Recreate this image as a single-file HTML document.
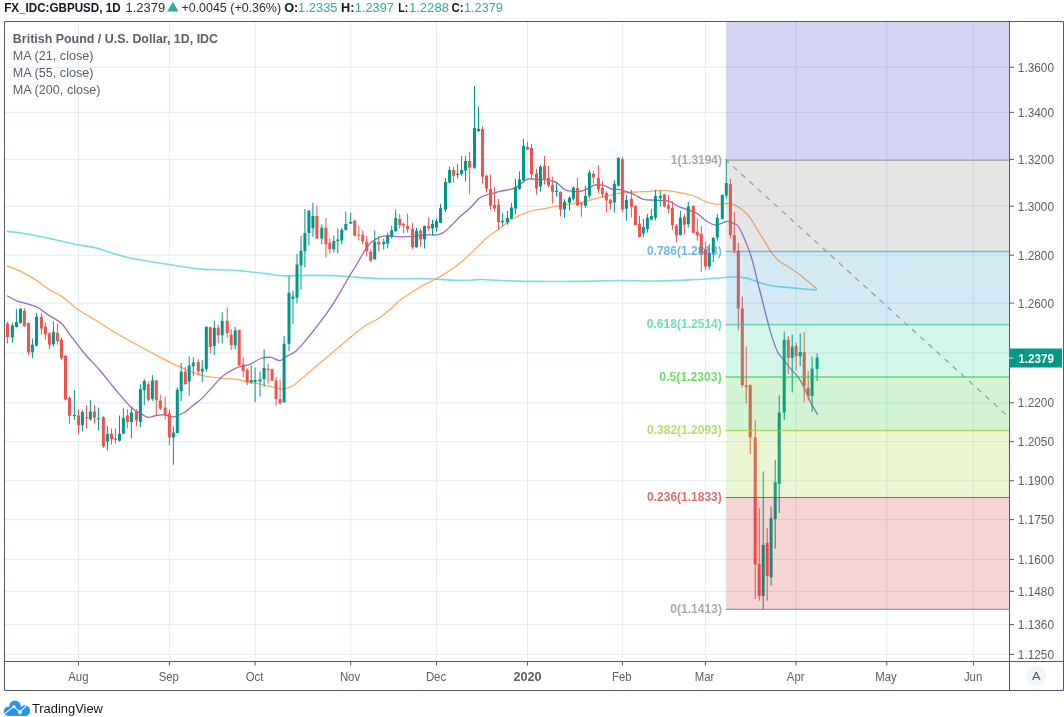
<!DOCTYPE html>
<html lang="en"><head><meta charset="utf-8"><title>GBPUSD chart</title>
<style>
html,body{margin:0;padding:0;background:#fff;}
body{width:1064px;height:717px;overflow:hidden;}
svg{display:block;}
text{font-family:"Liberation Sans", sans-serif;font-size:12px;fill:#5a5e6a;}
.g{stroke:#e1ecf2;stroke-width:1;fill:none;}
.fr{stroke:#555966;stroke-width:1;fill:none;}
.u{fill:#009688;}
.d{fill:#ef5350;}
</style></head><body>
<svg width="1064" height="717" viewBox="0 0 1064 717">
<rect width="1064" height="717" fill="#fff"/>
<g class="g">
<line x1="5" x2="1009.5" y1="67.2" y2="67.2"/>
<line x1="5" x2="1009.5" y1="112.4" y2="112.4"/>
<line x1="5" x2="1009.5" y1="159.4" y2="159.4"/>
<line x1="5" x2="1009.5" y1="206.2" y2="206.2"/>
<line x1="5" x2="1009.5" y1="255.2" y2="255.2"/>
<line x1="5" x2="1009.5" y1="303.1" y2="303.1"/>
<line x1="5" x2="1009.5" y1="352.9" y2="352.9"/>
<line x1="5" x2="1009.5" y1="402.8" y2="402.8"/>
<line x1="5" x2="1009.5" y1="441.7" y2="441.7"/>
<line x1="5" x2="1009.5" y1="480.75" y2="480.75"/>
<line x1="5" x2="1009.5" y1="519.6" y2="519.6"/>
<line x1="5" x2="1009.5" y1="559.4" y2="559.4"/>
<line x1="5" x2="1009.5" y1="591.35" y2="591.35"/>
<line x1="5" x2="1009.5" y1="624.6" y2="624.6"/>
<line x1="5" x2="1009.5" y1="654.4" y2="654.4"/>
<line x1="78.5" x2="78.5" y1="22" y2="661.5"/>
<line x1="169.4" x2="169.4" y1="22" y2="661.5"/>
<line x1="255.1" x2="255.1" y1="22" y2="661.5"/>
<line x1="350.7" x2="350.7" y1="22" y2="661.5"/>
<line x1="436.6" x2="436.6" y1="22" y2="661.5"/>
<line x1="527.5" x2="527.5" y1="22" y2="661.5"/>
<line x1="622.4" x2="622.4" y1="22" y2="661.5"/>
<line x1="705.4" x2="705.4" y1="22" y2="661.5"/>
<line x1="796.1" x2="796.1" y1="22" y2="661.5"/>
<line x1="886.8" x2="886.8" y1="22" y2="661.5"/>
<line x1="973.4" x2="973.4" y1="22" y2="661.5"/>
</g>
<g fill="none" stroke-width="1.3" stroke-linejoin="round" stroke-linecap="round">
<path stroke="#4dd0e1" stroke-width="1.6" stroke-opacity="0.75" d="M7.5 231.4C10.02 231.7 14.23 231.73 22.6 233.2C30.97 234.67 48.5 238.28 57.7 240.2C66.9 242.12 71.52 243.43 77.8 244.7C84.08 245.97 88.72 246.12 95.4 247.8C102.08 249.48 111.22 252.93 117.9 254.8C124.58 256.67 126.72 257.33 135.5 259C144.28 260.67 159.72 263.12 170.6 264.8C181.48 266.48 190.33 268.18 200.8 269.1C211.27 270.02 222.53 269.55 233.4 270.3C244.27 271.05 257.87 272.68 266 273.6C274.13 274.52 275.27 275.5 282.2 275.8C289.13 276.1 298.67 275.43 307.6 275.4C316.53 275.37 328.6 275.37 335.8 275.6C343 275.83 344.3 276.33 350.8 276.8C357.3 277.27 366.85 278.07 374.8 278.4C382.75 278.73 390.58 278.77 398.5 278.8C406.42 278.83 415.97 278.55 422.3 278.6C428.63 278.65 430.98 278.82 436.5 279.1C442.02 279.38 449.87 280.1 455.4 280.3C460.93 280.5 465.35 280.43 469.7 280.3C474.05 280.17 476.45 279.47 481.5 279.5C486.55 279.53 492.65 280.18 500 280.5C507.35 280.82 511.47 281.25 525.6 281.4C539.73 281.55 569 281.55 584.8 281.4C600.6 281.25 608.53 280.57 620.4 280.5C632.27 280.43 644.15 281.12 656 281C667.85 280.88 681.87 280.23 691.5 279.8C701.13 279.37 706.95 278.87 713.8 278.4C720.65 277.93 726.97 277 732.6 277C738.23 277 742.9 277.38 747.6 278.4C752.3 279.42 756.25 281.8 760.8 283.1C765.35 284.4 769.57 285.4 774.9 286.2C780.23 287 787.5 287.38 792.8 287.9C798.1 288.42 802.75 288.95 806.7 289.3C810.65 289.65 814.87 289.88 816.5 290"/>
<path stroke="#ff9a4a" stroke-opacity="0.85" d="M7.5 266.1C10.02 267.13 17.58 269.8 22.6 272.3C27.62 274.8 33.07 278.15 37.6 281.1C42.13 284.05 45.73 287.42 49.8 290C53.87 292.58 57.3 293.35 62 296.6C66.7 299.85 72.02 305.35 78 309.5C83.98 313.65 92.08 317.87 97.9 321.5C103.72 325.13 107.55 328.05 112.9 331.3C118.25 334.55 124.02 337.67 130 341C135.98 344.33 142.22 347.78 148.8 351.3C155.38 354.82 163.23 359.05 169.5 362.1C175.77 365.15 182.15 367.78 186.4 369.6C190.65 371.42 191.87 371.9 195 373C198.13 374.1 200.82 375.33 205.2 376.2C209.58 377.07 216.27 377.72 221.3 378.2C226.33 378.68 231.02 378.47 235.4 379.1C239.78 379.73 243.37 381.13 247.6 382C251.83 382.87 256.42 383.45 260.8 384.3C265.18 385.15 270.3 386.32 273.9 387.1C277.5 387.88 279.88 388.92 282.4 389C284.92 389.08 286.9 388.38 289 387.6C291.1 386.82 292.55 386.07 295 384.3C297.45 382.53 298.3 381.58 303.7 377C309.1 372.42 319.5 363.52 327.4 356.8C335.3 350.08 345.17 341.63 351.1 336.7C357.03 331.77 358.25 330.37 363 327.2C367.75 324.03 374.87 320.87 379.6 317.7C384.33 314.53 387.85 311.23 391.4 308.2C394.95 305.17 395.75 303.25 400.9 299.5C406.05 295.75 416.37 289.18 422.3 285.7C428.23 282.22 430.98 281.77 436.5 278.6C442.02 275.43 449.87 270.72 455.4 266.7C460.93 262.68 465.35 258.45 469.7 254.5C474.05 250.55 478.53 245.92 481.5 243C484.47 240.08 484.62 239.3 487.5 237C490.38 234.7 494.88 232.07 498.8 229.2C502.72 226.33 506.3 222.62 511 219.8C515.7 216.98 521.2 214.22 527 212.3C532.8 210.38 540.32 209.4 545.8 208.3C551.28 207.2 555.53 206.43 559.9 205.7C564.27 204.97 567.63 204.6 572 203.9C576.37 203.2 581.4 202.6 586.1 201.5C590.8 200.4 596.62 198.22 600.2 197.3C603.78 196.38 604.48 196.68 607.6 196C610.72 195.32 614.2 193.87 618.9 193.2C623.6 192.53 630.63 192.32 635.8 192C640.97 191.68 645.18 191.57 649.9 191.3C654.62 191.03 659.38 190.23 664.1 190.4C668.82 190.57 673.18 191.37 678.2 192.3C683.22 193.23 689.65 194.43 694.2 196C698.75 197.57 701.9 200.32 705.5 201.7C709.1 203.08 712.2 203.98 715.8 204.3C719.4 204.62 723.97 203.52 727.1 203.6C730.23 203.68 731.78 203.53 734.6 204.8C737.42 206.07 741.28 208.87 744 211.2C746.72 213.53 748.58 215.55 750.9 218.8C753.22 222.05 755.57 226.85 757.9 230.7C760.23 234.55 762.57 238.18 764.9 241.9C767.23 245.62 769.58 249.87 771.9 253C774.22 256.13 776.02 258.37 778.8 260.7C781.58 263.03 785.1 264.68 788.6 267C792.1 269.32 796.55 272.17 799.8 274.6C803.05 277.03 805.32 279.27 808.1 281.6C810.88 283.93 815.1 287.43 816.5 288.6"/>
<path stroke="#8a5ec0" stroke-opacity="0.92" d="M7.5 296C9.07 296.8 13.45 299.45 16.9 300.8C20.35 302.15 24.75 303 28.2 304.1C31.65 305.2 34.15 305.52 37.6 307.4C41.05 309.28 44.98 312.82 48.9 315.4C52.82 317.98 57.67 319.77 61.1 322.9C64.53 326.03 66.53 330.28 69.5 334.2C72.47 338.12 75.92 342.6 78.9 346.4C81.88 350.2 83.95 353.07 87.4 357C90.85 360.93 94.87 364.5 99.6 370C104.33 375.5 110.52 383.77 115.8 390C121.08 396.23 126.92 403.33 131.3 407.4C135.68 411.47 139.23 412.73 142.1 414.4C144.97 416.07 146.12 417.22 148.5 417.4C150.88 417.58 153.75 415.9 156.4 415.5C159.05 415.1 161.65 414.77 164.4 415C167.15 415.23 170.7 416.82 172.9 416.9C175.1 416.98 175.48 416.37 177.6 415.5C179.72 414.63 183.35 413.12 185.6 411.7C187.85 410.28 189.53 408.28 191.1 407C192.67 405.72 193.1 405.52 195 404C196.9 402.48 199.68 400.63 202.5 397.9C205.32 395.17 208.45 391.28 211.9 387.6C215.35 383.92 219.28 379.02 223.2 375.8C227.12 372.58 231.95 369.97 235.4 368.3C238.85 366.63 241.38 366.5 243.9 365.8C246.42 365.1 247.68 365.32 250.5 364.1C253.32 362.88 257.37 359.62 260.8 358.5C264.23 357.38 267.9 357.05 271.1 357.4C274.3 357.75 277.18 360.92 280 360.6C282.82 360.28 285.5 356.97 288 355.5C290.5 354.03 292.18 354.15 295 351.8C297.82 349.45 299.3 348.27 304.9 341.4C310.5 334.53 322.67 318.9 328.6 310.6C334.53 302.3 337.1 297.23 340.5 291.6C343.9 285.97 346.55 280.9 349 276.8C351.45 272.7 352.6 271.33 355.2 267C357.8 262.67 362.1 254.77 364.6 250.8C367.1 246.83 368.52 244.98 370.2 243.2C371.88 241.42 373.02 241.17 374.7 240.1C376.38 239.03 377.95 237.5 380.3 236.8C382.65 236.1 385.52 235.9 388.8 235.9C392.08 235.9 396.08 236.72 400 236.8C403.92 236.88 407.9 236.72 412.3 236.4C416.7 236.08 422.33 235.15 426.4 234.9C430.47 234.65 433.88 235.28 436.7 234.9C439.52 234.52 440.95 234.08 443.3 232.6C445.65 231.12 447.98 228.67 450.8 226C453.62 223.33 456.8 219.77 460.2 216.6C463.6 213.43 468.03 210.05 471.2 207C474.37 203.95 476.47 200.38 479.2 198.3C481.93 196.22 484 195.68 487.6 194.5C491.2 193.32 496.72 192.13 500.8 191.2C504.88 190.27 508.97 189.92 512.1 188.9C515.23 187.88 517.02 186.73 519.6 185.1C522.18 183.47 524.8 180.05 527.6 179.1C530.4 178.15 533.37 179.27 536.4 179.4C539.43 179.53 542.52 179.42 545.8 179.9C549.08 180.38 552.97 180.7 556.1 182.3C559.23 183.9 561.95 188 564.6 189.5C567.25 191 569.2 191.02 572 191.3C574.8 191.58 578.58 191.77 581.4 191.2C584.22 190.63 586.73 188.9 588.9 187.9C591.07 186.9 592.07 185.65 594.4 185.2C596.73 184.75 599.92 184.5 602.9 185.2C605.88 185.9 609.63 188.7 612.3 189.4C614.97 190.1 616.55 189.02 618.9 189.4C621.25 189.78 623.58 190.68 626.4 191.7C629.22 192.72 632.98 194.23 635.8 195.5C638.62 196.77 640.17 198.52 643.3 199.3C646.43 200.08 650.35 199.88 654.6 200.2C658.85 200.52 664.87 200.17 668.8 201.2C672.73 202.23 675.07 205 678.2 206.4C681.33 207.8 684.47 208.45 687.6 209.6C690.73 210.75 693.87 211.4 697 213.3C700.13 215.2 703.27 219.05 706.4 221C709.53 222.95 712.35 224.93 715.8 225C719.25 225.07 723.97 221.6 727.1 221.4C730.23 221.2 732.72 222.95 734.6 223.8C736.48 224.65 736.83 224.18 738.4 226.5C739.97 228.82 742.15 233.52 744 237.7C745.85 241.88 747.88 246.95 749.5 251.6C751.12 256.25 752.37 260.62 753.7 265.6C755.03 270.58 756.1 275.85 757.5 281.5C758.9 287.15 760.47 293.08 762.1 299.5C763.73 305.92 765.65 313.77 767.3 320C768.95 326.23 770.28 331.57 772 336.9C773.72 342.23 775.72 348.23 777.6 352C779.48 355.77 781.1 356.68 783.3 359.5C785.5 362.32 788.3 365.93 790.8 368.9C793.3 371.87 795.95 373.93 798.3 377.3C800.65 380.67 802.7 384.63 804.9 389.1C807.1 393.57 809.38 399.87 811.5 404.1C813.62 408.33 816.58 412.77 817.6 414.5"/>
</g>
<g>
<path class="d" d="M7 322h1v21.6h-1zM6 323.4h3v13.6h-3z"/>
<path class="u" d="M11.9 322.4h1v20.2h-1zM10.9 325.2h3v12.3h-3z"/>
<path class="u" d="M15.9 309.3h1v18.3h-1zM14.9 322h3v5.1h-3z"/>
<path class="u" d="M20 307.9h1v15.5h-1zM19 308.8h3v14.1h-3z"/>
<path class="d" d="M23.9 308.3h1v18.4h-1zM22.9 311.1h3v15.1h-3z"/>
<path class="d" d="M28 322.4h1v32.6h-1zM27 322.9h3v29.3h-3z"/>
<path class="u" d="M31.9 338.4h1v19.5h-1zM30.9 344.7h3v7.5h-3z"/>
<path class="u" d="M36 313h1v33.6h-1zM35 316.8h3v28.8h-3z"/>
<path class="d" d="M40.9 313.5h1v21.1h-1zM39.9 316.8h3v11.7h-3z"/>
<path class="d" d="M44.9 322.4h1v17.4h-1zM43.9 326.7h3v7.5h-3z"/>
<path class="d" d="M48.9 332.3h1v16.6h-1zM47.9 333.2h3v11.5h-3z"/>
<path class="u" d="M52.9 321.5h1v25.1h-1zM51.9 331.8h3v12.4h-3z"/>
<path class="d" d="M56.9 323.4h1v21.3h-1zM55.9 332.8h3v8.2h-3z"/>
<path class="d" d="M61 337.5h1v22.2h-1zM60 339.8h3v18.5h-3z"/>
<path class="d" d="M65 355h1v45.6h-1zM64 356h3v43.5h-3z"/>
<path class="d" d="M69 396.6h1v27.7h-1zM68 398h3v17.8h-3z"/>
<path class="u" d="M73.9 390.3h1v29.7h-1zM72.9 415h3v1.3h-3z"/>
<path class="d" d="M78 409.3h1v24.9h-1zM77 415.4h3v9.8h-3z"/>
<path class="u" d="M81.9 410.2h1v21.2h-1zM80.9 412h3v13.2h-3z"/>
<path class="d" d="M86 405.5h1v23h-1zM85 417.15h3v1.2h-3z"/>
<path class="u" d="M89.9 400.3h1v20.2h-1zM88.9 411.6h3v8h-3z"/>
<path class="d" d="M94 405.5h1v17.9h-1zM93 411.6h3v6.1h-3z"/>
<path class="u" d="M97.9 407.4h1v23h-1zM96.9 418.15h3v1.2h-3z"/>
<path class="d" d="M102.9 416.3h1v32h-1zM101.9 417.3h3v28.6h-3z"/>
<path class="u" d="M106.9 426.2h1v24h-1zM105.9 433.7h3v8h-3z"/>
<path class="d" d="M111 428.5h1v16h-1zM110 433.7h3v5.2h-3z"/>
<path class="d" d="M115 428.5h1v15.1h-1zM114 438.4h3v1.4h-3z"/>
<path class="u" d="M119 415.4h1v26.3h-1zM118 433.7h3v7.1h-3z"/>
<path class="u" d="M122.9 408.3h1v25.9h-1zM121.9 417.7h3v16h-3z"/>
<path class="d" d="M126.9 409.3h1v19.2h-1zM125.9 415.4h3v6.6h-3z"/>
<path class="u" d="M130.9 407.4h1v31h-1zM129.9 412.6h3v9.4h-3z"/>
<path class="d" d="M136 409.3h1v16.9h-1zM135 411.6h3v8.9h-3z"/>
<path class="u" d="M139.9 384.2h1v43.1h-1zM138.9 389.3h3v32.8h-3z"/>
<path class="u" d="M143.8 379h1v26.2h-1zM142.8 380.9h3v9.4h-3z"/>
<path class="d" d="M147.8 381.4h1v20.2h-1zM146.8 384.2h3v15.5h-3z"/>
<path class="u" d="M151.9 375.2h1v25.9h-1zM150.9 380.4h3v18.3h-3z"/>
<path class="d" d="M155.8 380h1v35h-1zM154.8 380.4h3v19.8h-3z"/>
<path class="d" d="M159.8 394.5h1v15.4h-1zM158.8 400.6h3v7.9h-3z"/>
<path class="d" d="M164.7 396.4h1v22.9h-1zM163.7 407.5h3v7.5h-3z"/>
<path class="d" d="M168.9 409.4h1v36.2h-1zM167.9 413.6h3v24h-3z"/>
<path class="u" d="M172.9 426.3h1v38.5h-1zM171.9 432.4h3v5.2h-3z"/>
<path class="u" d="M176.8 387.5h1v45.9h-1zM175.8 389.8h3v43.1h-3z"/>
<path class="u" d="M180.7 363h1v38.1h-1zM179.7 371.5h3v19.7h-3z"/>
<path class="d" d="M184.8 366.8h1v17.9h-1zM183.8 371.5h3v12.7h-3z"/>
<path class="u" d="M188.7 356.4h1v39.1h-1zM187.7 365.4h3v16h-3z"/>
<path class="u" d="M192.8 357.4h1v18.8h-1zM191.8 362.6h3v3.7h-3z"/>
<path class="d" d="M197.8 359.3h1v15.9h-1zM196.8 362.1h3v9.4h-3z"/>
<path class="u" d="M201.8 360.2h1v22.1h-1zM200.8 368.7h3v2.8h-3z"/>
<path class="u" d="M205.8 326.3h1v45.2h-1zM204.8 326.8h3v42.3h-3z"/>
<path class="d" d="M209.8 326.8h1v26.5h-1zM208.8 327.3h3v19.7h-3z"/>
<path class="u" d="M213.8 320.7h1v34.6h-1zM212.8 327.7h3v18.4h-3z"/>
<path class="d" d="M217.7 324.4h1v19.1h-1zM216.7 327.7h3v7.5h-3z"/>
<path class="u" d="M221.7 312.2h1v31.3h-1zM220.7 320.7h3v14.5h-3z"/>
<path class="d" d="M226.7 307.5h1v30.6h-1zM225.7 320.7h3v12.2h-3z"/>
<path class="d" d="M230.7 329.6h1v20.7h-1zM229.7 334.8h3v10.3h-3z"/>
<path class="u" d="M234.7 326.8h1v22.5h-1zM233.7 330.5h3v15.1h-3z"/>
<path class="d" d="M238.7 329.6h1v36.4h-1zM237.7 330.1h3v35.3h-3z"/>
<path class="d" d="M242.7 357.4h1v19.9h-1zM241.7 364.6h3v6.5h-3z"/>
<path class="d" d="M246.7 368.3h1v16.9h-1zM245.7 370h3v12.4h-3z"/>
<path class="u" d="M250.7 365.5h1v18.8h-1zM249.7 380.1h3v1.9h-3z"/>
<path class="u" d="M254.6 367.4h1v34.8h-1zM253.6 380.1h3v1.9h-3z"/>
<path class="u" d="M259.5 371.6h1v24.9h-1zM258.5 379.6h3v1.9h-3z"/>
<path class="u" d="M263.6 349.3h1v37.8h-1zM262.6 368.1h3v11h-3z"/>
<path class="d" d="M267.6 363.6h1v20.2h-1zM266.6 368.8h3v1.4h-3z"/>
<path class="d" d="M271.6 368.8h1v12.2h-1zM270.6 369.3h3v11.2h-3z"/>
<path class="d" d="M275.6 376.8h1v28.7h-1zM274.6 380.5h3v18.4h-3z"/>
<path class="d" d="M279.6 379.6h1v24.9h-1zM278.6 398.9h3v4.7h-3z"/>
<path class="u" d="M283.6 335.7h1v67h-1zM282.6 343.7h3v58.5h-3z"/>
<path class="u" d="M288.5 276.3h1v74.9h-1zM287.5 292.8h3v50.9h-3z"/>
<path class="u" d="M292.5 290.4h1v33.6h-1zM291.5 296.5h3v2.4h-3z"/>
<path class="u" d="M296.5 253.7h1v49.9h-1zM295.5 264.6h3v32.9h-3z"/>
<path class="u" d="M300.5 235.7h1v53.8h-1zM299.5 250.8h3v14.7h-3z"/>
<path class="u" d="M304.4 208.9h1v58.5h-1zM303.4 232.9h3v18.4h-3z"/>
<path class="u" d="M308.4 209.9h1v35.7h-1zM307.4 210.8h3v22.1h-3z"/>
<path class="u" d="M312.4 202.8h1v33.9h-1zM311.4 216h3v12.2h-3z"/>
<path class="d" d="M316.4 205.6h1v33.4h-1zM315.4 216h3v22.5h-3z"/>
<path class="u" d="M321.3 224.4h1v19.8h-1zM320.3 227.7h3v10.8h-3z"/>
<path class="d" d="M325.4 217.9h1v39.5h-1zM324.4 227.7h3v16.5h-3z"/>
<path class="d" d="M329.3 238.5h1v15.2h-1zM328.3 242.8h3v6.5h-3z"/>
<path class="u" d="M333.3 235.7h1v16.8h-1zM332.3 240.9h3v8.4h-3z"/>
<path class="u" d="M337.3 228.7h1v25h-1zM336.3 239.5h3v1.4h-3z"/>
<path class="u" d="M341.3 227.7h1v16.9h-1zM340.3 230.1h3v10.3h-3z"/>
<path class="u" d="M345.3 211.7h1v18.9h-1zM344.3 224h3v6.1h-3z"/>
<path class="u" d="M350.2 212.7h1v11.3h-1zM349.2 222.1h3v1.4h-3z"/>
<path class="d" d="M354.2 219.7h1v16.5h-1zM353.2 220.7h3v15h-3z"/>
<path class="d" d="M358.3 225.8h1v14.6h-1zM357.3 234.65h3v1.2h-3z"/>
<path class="d" d="M362.2 230.5h1v14.1h-1zM361.2 234.8h3v6.6h-3z"/>
<path class="d" d="M366.2 235.7h1v20.8h-1zM365.2 241.8h3v9.4h-3z"/>
<path class="d" d="M370.2 248.9h1v13.1h-1zM369.2 251.7h3v8.8h-3z"/>
<path class="u" d="M374.2 230.6h1v29.2h-1zM373.2 241.7h3v17.6h-3z"/>
<path class="d" d="M378.2 236.7h1v14.8h-1zM377.2 241.9h3v2.5h-3z"/>
<path class="u" d="M383.2 238.7h1v10.8h-1zM382.2 242h3v2.3h-3z"/>
<path class="u" d="M387.2 232.6h1v16h-1zM386.2 234.9h3v8.5h-3z"/>
<path class="u" d="M391.2 225.5h1v13.2h-1zM390.2 230.2h3v6.2h-3z"/>
<path class="u" d="M395.2 209.6h1v22.1h-1zM394.2 218h3v13.2h-3z"/>
<path class="d" d="M399.2 213.8h1v14.6h-1zM398.2 219h3v6.1h-3z"/>
<path class="d" d="M403.1 222.7h1v10.8h-1zM402.1 224.1h3v1.4h-3z"/>
<path class="d" d="M407.1 213.8h1v18.8h-1zM406.1 226h3v3.3h-3z"/>
<path class="d" d="M412.1 222.7h1v26.8h-1zM411.1 228.8h3v18.4h-3z"/>
<path class="u" d="M416 227.9h1v19.8h-1zM415 230.7h3v16.5h-3z"/>
<path class="d" d="M420.1 228.8h1v17.9h-1zM419.1 230.7h3v8.9h-3z"/>
<path class="u" d="M424 225.5h1v23.1h-1zM423 226h3v13.2h-3z"/>
<path class="d" d="M428.1 217.6h1v13.1h-1zM427.1 226h3v2.4h-3z"/>
<path class="u" d="M432 219.9h1v15.5h-1zM431 224.1h3v4.3h-3z"/>
<path class="u" d="M436 218.5h1v13.2h-1zM435 221.3h3v6.1h-3z"/>
<path class="u" d="M440 203.9h1v19.3h-1zM439 208.2h3v14.5h-3z"/>
<path class="u" d="M445 178.1h1v33.8h-1zM444 181.8h3v27.8h-3z"/>
<path class="u" d="M449.1 166.8h1v16.5h-1zM448.1 170.1h3v12.7h-3z"/>
<path class="d" d="M453.1 166.8h1v16h-1zM452.1 170.1h3v5.6h-3z"/>
<path class="u" d="M457.1 164h1v14.5h-1zM456.1 173.8h3v1.2h-3z"/>
<path class="u" d="M461.1 156h1v19.7h-1zM460.1 170.1h3v3.7h-3z"/>
<path class="u" d="M465 156h1v25.4h-1zM464 161.1h3v9.4h-3z"/>
<path class="d" d="M469.1 151.7h1v42.8h-1zM468.1 161.1h3v6.6h-3z"/>
<path class="u" d="M474 86.1h1v82.6h-1zM473 127.9h3v39.8h-3z"/>
<path class="u" d="M478 106.8h1v24.9h-1zM477 128.9h3v2.3h-3z"/>
<path class="d" d="M482 126.5h1v57.2h-1zM481 128.9h3v47.8h-3z"/>
<path class="d" d="M486 174.5h1v18.1h-1zM485 175.7h3v12.7h-3z"/>
<path class="d" d="M490 174.8h1v34.7h-1zM489 188.9h3v16.9h-3z"/>
<path class="d" d="M494 186.7h1v24.7h-1zM493 204.8h3v3.7h-3z"/>
<path class="d" d="M498 198.9h1v30.3h-1zM497 204.8h3v17.4h-3z"/>
<path class="u" d="M502.1 212.8h1v13.6h-1zM501.1 220.8h3v1.4h-3z"/>
<path class="u" d="M507 210.9h1v13.6h-1zM506 217.9h3v4.7h-3z"/>
<path class="u" d="M511 202.9h1v16h-1zM510 207.6h3v10.8h-3z"/>
<path class="u" d="M515 178.9h1v35.3h-1zM514 186.9h3v21.6h-3z"/>
<path class="u" d="M519 171.2h1v18.6h-1zM518 179.6h3v9.2h-3z"/>
<path class="u" d="M523 138.7h1v42.6h-1zM522 146.1h3v34.5h-3z"/>
<path class="d" d="M527 141.8h1v8.2h-1zM526 147h3v2.4h-3z"/>
<path class="d" d="M531 143.8h1v35.7h-1zM530 148h3v26.3h-3z"/>
<path class="d" d="M536 168.7h1v25.8h-1zM535 173.8h3v14.8h-3z"/>
<path class="u" d="M540 164.9h1v26.8h-1zM539 166.8h3v19.7h-3z"/>
<path class="d" d="M544 156h1v28.6h-1zM543 165.8h3v13.2h-3z"/>
<path class="d" d="M548 165.8h1v21.7h-1zM547 178.1h3v7.5h-3z"/>
<path class="d" d="M551.9 176.8h1v26.6h-1zM550.9 185.1h3v6.6h-3z"/>
<path class="u" d="M556 183h1v13.4h-1zM555 190.8h3v1.2h-3z"/>
<path class="d" d="M560 191.2h1v25.3h-1zM559 191.9h3v17.6h-3z"/>
<path class="u" d="M564 199.2h1v18.3h-1zM563 202h3v7.5h-3z"/>
<path class="u" d="M569 195.9h1v14.5h-1zM568 197.8h3v4.9h-3z"/>
<path class="u" d="M572.9 186.6h1v14h-1zM571.9 187.6h3v11.1h-3z"/>
<path class="d" d="M576.9 177.8h1v28.3h-1zM575.9 188h3v17.6h-3z"/>
<path class="d" d="M580.9 202.8h1v13.9h-1zM579.9 203h3v1.4h-3z"/>
<path class="u" d="M584.9 186.1h1v21.6h-1zM583.9 195.9h3v9.9h-3z"/>
<path class="u" d="M588.9 170.1h1v28.4h-1zM587.9 172.4h3v23.3h-3z"/>
<path class="d" d="M592.9 171h1v12.5h-1zM591.9 173.8h3v3.8h-3z"/>
<path class="d" d="M597.9 164.9h1v28.7h-1zM596.9 178.1h3v11.5h-3z"/>
<path class="d" d="M601.9 180.9h1v16.3h-1zM600.9 188h3v6.5h-3z"/>
<path class="d" d="M605.9 191h1v21.4h-1zM604.9 192.9h3v7.5h-3z"/>
<path class="d" d="M609.9 198.7h1v10.9h-1zM608.9 199.7h3v4h-3z"/>
<path class="u" d="M613.9 179.9h1v32.5h-1zM612.9 183.7h3v18.8h-3z"/>
<path class="u" d="M617.9 156.9h1v29.7h-1zM616.9 157.9h3v27.9h-3z"/>
<path class="d" d="M621.9 156.9h1v55.1h-1zM620.9 159.3h3v50.3h-3z"/>
<path class="u" d="M625.9 195h1v25.4h-1zM624.9 199.7h3v9h-3z"/>
<path class="d" d="M630.9 189.9h1v27.7h-1zM629.9 198.8h3v8h-3z"/>
<path class="d" d="M634.9 205.3h1v20.3h-1zM633.9 205.8h3v19.3h-3z"/>
<path class="d" d="M639 215.7h1v21.7h-1zM638 223.7h3v13.2h-3z"/>
<path class="u" d="M642.9 219h1v18.3h-1zM641.9 227h3v6.6h-3z"/>
<path class="u" d="M646.9 213.8h1v18.8h-1zM645.9 217.6h3v11.3h-3z"/>
<path class="u" d="M650.9 208.9h1v11.1h-1zM649.9 216h3v3.5h-3z"/>
<path class="u" d="M654.9 189.9h1v30.5h-1zM653.9 196h3v21.4h-3z"/>
<path class="u" d="M659.8 190.6h1v16h-1zM658.8 196h3v2.3h-3z"/>
<path class="d" d="M663.9 193.9h1v13.6h-1zM662.9 194.6h3v11.7h-3z"/>
<path class="d" d="M667.9 195h1v18.6h-1zM666.9 205.1h3v3.6h-3z"/>
<path class="d" d="M671.9 201.2h1v28.7h-1zM670.9 208h3v17.2h-3z"/>
<path class="d" d="M675.9 223.8h1v18.8h-1zM674.9 225.7h3v9.8h-3z"/>
<path class="u" d="M679.9 211.1h1v24.5h-1zM678.9 217.7h3v17.4h-3z"/>
<path class="d" d="M683.9 213.9h1v20.7h-1zM682.9 216.7h3v8h-3z"/>
<path class="u" d="M687.8 201.7h1v25.9h-1zM686.8 206.4h3v17.9h-3z"/>
<path class="d" d="M692.8 205h1v28.2h-1zM691.8 205.9h3v26.8h-3z"/>
<path class="d" d="M696.8 218.6h1v22.1h-1zM695.8 231.8h3v3.7h-3z"/>
<path class="d" d="M700.8 225.7h1v46.6h-1zM699.8 233.7h3v19.7h-3z"/>
<path class="d" d="M704.9 241.7h1v28h-1zM703.9 248.7h3v17.9h-3z"/>
<path class="u" d="M708.8 244h1v25.7h-1zM707.8 252.9h3v13.7h-3z"/>
<path class="u" d="M712.8 237h1v25.3h-1zM711.8 237.9h3v15h-3z"/>
<path class="u" d="M716.8 213.9h1v26.8h-1zM715.8 217.7h3v19.7h-3z"/>
<path class="u" d="M721.8 194.2h1v25.4h-1zM720.8 195.1h3v24h-3z"/>
<path class="u" d="M725.8 158.9h1v39.5h-1zM724.8 182.9h3v12.7h-3z"/>
<path class="d" d="M729.9 179.1h1v59.3h-1zM728.9 184.3h3v50.8h-3z"/>
<path class="d" d="M733.8 211.8h1v41.6h-1zM732.8 235.1h3v15.5h-3z"/>
<path class="d" d="M737.8 243.1h1v87.2h-1zM736.8 250.6h3v57.9h-3z"/>
<path class="d" d="M741.8 296.8h1v90.4h-1zM740.8 308.5h3v76.4h-3z"/>
<path class="d" d="M745.7 346.8h1v56.4h-1zM744.7 385.3h3v1.4h-3z"/>
<path class="d" d="M749.7 384.4h1v69.6h-1zM748.7 385.3h3v52.2h-3z"/>
<path class="d" d="M754.7 420.6h1v178.3h-1zM753.7 437.5h3v127.1h-3z"/>
<path class="d" d="M758.7 508.3h1v92.5h-1zM757.7 564.1h3v32h-3z"/>
<path class="u" d="M762.7 471.4h1v138h-1zM761.7 545h3v51.1h-3z"/>
<path class="d" d="M766.7 528.1h1v72.7h-1zM765.7 543.1h3v32.7h-3z"/>
<path class="u" d="M770.6 506.4h1v79.3h-1zM769.6 518.2h3v59.1h-3z"/>
<path class="u" d="M774.7 460.1h1v88.6h-1zM773.7 482.2h3v36.9h-3z"/>
<path class="u" d="M778.7 395.2h1v117.8h-1zM777.7 412.6h3v71.4h-3z"/>
<path class="u" d="M783.7 331.7h1v88.4h-1zM782.7 339.7h3v72.9h-3z"/>
<path class="d" d="M787.8 336h1v38h-1zM786.8 339.7h3v18.4h-3z"/>
<path class="u" d="M791.7 334.6h1v57.8h-1zM790.7 346.8h3v11.3h-3z"/>
<path class="d" d="M795.6 342.6h1v27.7h-1zM794.6 345.8h3v10.4h-3z"/>
<path class="u" d="M799.7 333.6h1v32.5h-1zM798.7 352h3v4.2h-3z"/>
<path class="d" d="M803.7 332.2h1v70.1h-1zM802.7 352h3v33.8h-3z"/>
<path class="d" d="M807.7 370.8h1v30h-1zM806.7 387.7h3v8.4h-3z"/>
<path class="u" d="M811.6 356.7h1v55.4h-1zM810.6 368.4h3v27.7h-3z"/>
<path class="u" d="M816.6 353.4h1v27.7h-1zM815.6 357.6h3v11.3h-3z"/>
</g>
<g fill-opacity="0.2">
<rect x="726" y="22" width="283" height="138.3" fill="#2828cc"/>
<rect x="726" y="160.3" width="283" height="91.2" fill="#808080"/>
<rect x="726" y="251.5" width="283" height="73.1" fill="#2895cc"/>
<rect x="726" y="324.6" width="283" height="52.45" fill="#28cc95"/>
<rect x="726" y="377.05" width="283" height="53.4" fill="#28cc28"/>
<rect x="726" y="430.45" width="283" height="67.05" fill="#95cc28"/>
<rect x="726" y="497.5" width="283" height="111.9" fill="#cc2828"/>
</g>
<g>
<line x1="725.5" x2="1009" y1="160.3" y2="160.3" stroke="#808080" stroke-width="1.2" stroke-opacity="0.55"/>
<line x1="725.5" x2="1009" y1="251.5" y2="251.5" stroke="#2895cc" stroke-width="1.7" stroke-opacity="0.6"/>
<line x1="725.5" x2="1009" y1="324.6" y2="324.6" stroke="#28cc95" stroke-width="1.6" stroke-opacity="0.6"/>
<line x1="725.5" x2="1009" y1="377.05" y2="377.05" stroke="#28cc28" stroke-width="1.6" stroke-opacity="0.65"/>
<line x1="725.5" x2="1009" y1="430.45" y2="430.45" stroke="#95cc28" stroke-width="1.6" stroke-opacity="0.65"/>
<line x1="725.5" x2="1009" y1="497.5" y2="497.5" stroke="#cc2828" stroke-width="1.2" stroke-opacity="0.8"/>
<line x1="725.5" x2="1009" y1="609.4" y2="609.4" stroke="#808080" stroke-width="1.2" stroke-opacity="0.75"/>
</g>
<g>
<text x="670.85" y="164" textLength="51.1" lengthAdjust="spacingAndGlyphs" style="font-weight:bold;fill:#808080;fill-opacity:0.68">1(1.3194)</text>
<text x="646.9" y="255" textLength="74.91" lengthAdjust="spacingAndGlyphs" style="font-weight:bold;fill:#2895cc;fill-opacity:0.68">0.786(1.2813)</text>
<text x="646.8" y="328" textLength="75.01" lengthAdjust="spacingAndGlyphs" style="font-weight:bold;fill:#28cc95;fill-opacity:0.68">0.618(1.2514)</text>
<text x="659.39" y="381" textLength="62.35" lengthAdjust="spacingAndGlyphs" style="font-weight:bold;fill:#28cc28;fill-opacity:0.68">0.5(1.2303)</text>
<text x="647" y="434" textLength="74.81" lengthAdjust="spacingAndGlyphs" style="font-weight:bold;fill:#95cc28;fill-opacity:0.68">0.382(1.2093)</text>
<text x="647" y="501" textLength="74.81" lengthAdjust="spacingAndGlyphs" style="font-weight:bold;fill:#cc2828;fill-opacity:0.68">0.236(1.1833)</text>
<text x="670.3" y="613" textLength="51.67" lengthAdjust="spacingAndGlyphs" style="font-weight:bold;fill:#808080;fill-opacity:0.68">0(1.1413)</text>
</g>
<line x1="726.3" y1="160.3" x2="1009" y2="417.42" stroke="#8c8c8c" stroke-opacity="0.85" stroke-width="1.2" stroke-dasharray="5.5 5.5" stroke-dashoffset="1.9" fill="none"/>
<text x="12.88" y="43" textLength="205.21" lengthAdjust="spacingAndGlyphs" style="font-weight:bold">British Pound / U.S. Dollar, 1D, IDC</text>
<text x="12.85" y="60" textLength="80.65" lengthAdjust="spacingAndGlyphs">MA (21, close)</text>
<text x="12.85" y="77" textLength="80.65" lengthAdjust="spacingAndGlyphs">MA (55, close)</text>
<text x="12.85" y="94" textLength="87.72" lengthAdjust="spacingAndGlyphs">MA (200, close)</text>
<g class="fr">
<path d="M4.5 21.5H1063.5V690.5H4.5Z"/>
<path d="M1009.5 21.5V690.5"/>
<path d="M4.5 661.5H1063.5"/>
<path d="M1010 67.2h4"/>
<path d="M1010 112.4h4"/>
<path d="M1010 159.4h4"/>
<path d="M1010 206.2h4"/>
<path d="M1010 255.2h4"/>
<path d="M1010 303.1h4"/>
<path d="M1010 402.8h4"/>
<path d="M1010 441.7h4"/>
<path d="M1010 480.75h4"/>
<path d="M1010 519.6h4"/>
<path d="M1010 559.4h4"/>
<path d="M1010 591.35h4"/>
<path d="M1010 624.6h4"/>
<path d="M1010 654.4h4"/>
<path d="M78.5 662v3.5"/>
<path d="M169.4 662v3.5"/>
<path d="M255.1 662v3.5"/>
<path d="M350.7 662v3.5"/>
<path d="M436.6 662v3.5"/>
<path d="M527.5 662v3.5"/>
<path d="M622.4 662v3.5"/>
<path d="M705.4 662v3.5"/>
<path d="M796.1 662v3.5"/>
<path d="M886.8 662v3.5"/>
<path d="M973.4 662v3.5"/>
</g>
<text x="1017.81" y="72" textLength="36.21" lengthAdjust="spacingAndGlyphs">1.3600</text>
<text x="1017.81" y="117" textLength="36.21" lengthAdjust="spacingAndGlyphs">1.3400</text>
<text x="1017.81" y="164" textLength="36.21" lengthAdjust="spacingAndGlyphs">1.3200</text>
<text x="1017.81" y="211" textLength="36.21" lengthAdjust="spacingAndGlyphs">1.3000</text>
<text x="1017.81" y="260" textLength="36.21" lengthAdjust="spacingAndGlyphs">1.2800</text>
<text x="1017.81" y="308" textLength="36.21" lengthAdjust="spacingAndGlyphs">1.2600</text>
<text x="1017.81" y="407" textLength="36.21" lengthAdjust="spacingAndGlyphs">1.2200</text>
<text x="1017.81" y="446" textLength="36.21" lengthAdjust="spacingAndGlyphs">1.2050</text>
<text x="1017.81" y="485" textLength="36.21" lengthAdjust="spacingAndGlyphs">1.1900</text>
<text x="1017.81" y="524" textLength="36.21" lengthAdjust="spacingAndGlyphs">1.1750</text>
<text x="1017.81" y="564" textLength="36.21" lengthAdjust="spacingAndGlyphs">1.1600</text>
<text x="1017.81" y="596" textLength="36.21" lengthAdjust="spacingAndGlyphs">1.1480</text>
<text x="1017.81" y="629" textLength="36.21" lengthAdjust="spacingAndGlyphs">1.1360</text>
<text x="1017.81" y="659" textLength="36.21" lengthAdjust="spacingAndGlyphs">1.1250</text>
<rect x="1009" y="348.5" width="53" height="19" fill="#009688"/>
<path d="M1009 358h4.3" stroke="#fff" stroke-opacity="0.85" stroke-width="1" fill="none"/>
<text x="1018.17" y="363" textLength="35.82" lengthAdjust="spacingAndGlyphs" style="font-weight:bold;fill:#fff">1.2379</text>
<text x="68.22" y="681" textLength="20.24" lengthAdjust="spacingAndGlyphs">Aug</text>
<text x="158.69" y="681" textLength="20.24" lengthAdjust="spacingAndGlyphs">Sep</text>
<text x="245.7" y="681" textLength="17.7" lengthAdjust="spacingAndGlyphs">Oct</text>
<text x="339.9" y="681" textLength="20.23" lengthAdjust="spacingAndGlyphs">Nov</text>
<text x="425.92" y="681" textLength="20.23" lengthAdjust="spacingAndGlyphs">Dec</text>
<text x="513.54" y="681" textLength="28.13" lengthAdjust="spacingAndGlyphs" style="font-weight:bold">2020</text>
<text x="611.98" y="681" textLength="19.61" lengthAdjust="spacingAndGlyphs">Feb</text>
<text x="694.79" y="681" textLength="19.59" lengthAdjust="spacingAndGlyphs">Mar</text>
<text x="786.8" y="681" textLength="17.71" lengthAdjust="spacingAndGlyphs">Apr</text>
<text x="875.24" y="681" textLength="21.49" lengthAdjust="spacingAndGlyphs">May</text>
<text x="963.91" y="681" textLength="18.35" lengthAdjust="spacingAndGlyphs">Jun</text>
<circle cx="1036" cy="675.9" r="10" fill="#f0f3fa"/>
<text x="1032.03" y="680" textLength="8.58" lengthAdjust="spacingAndGlyphs" style="font-size:11px">A</text>
<text x="4.13" y="12" textLength="116.52" lengthAdjust="spacingAndGlyphs" style="font-weight:bold;fill:#131722">FX_IDC:GBPUSD, 1D</text>
<text x="125.42" y="12" textLength="39.74" lengthAdjust="spacingAndGlyphs" style="fill:#2a2e39">1.2379</text>
<text x="167.36" y="10.1" textLength="11.17" lengthAdjust="spacingAndGlyphs" style="font-size:13px;font-family:'DejaVu Sans',sans-serif;fill:#30aa9f">▲</text>
<text x="181.48" y="12" textLength="99.62" lengthAdjust="spacingAndGlyphs" style="fill:#2a2e39">+0.0045 (+0.36%)</text>
<text x="284.22" y="12" textLength="14.1" lengthAdjust="spacingAndGlyphs" style="font-weight:bold;fill:#131722">O:</text>
<text x="298.13" y="12" textLength="39.32" lengthAdjust="spacingAndGlyphs" style="fill:#30aa9f">1.2335</text>
<text x="341.06" y="12" textLength="13.4" lengthAdjust="spacingAndGlyphs" style="font-weight:bold;fill:#131722">H:</text>
<text x="354.83" y="12" textLength="39.12" lengthAdjust="spacingAndGlyphs" style="fill:#30aa9f">1.2397</text>
<text x="398.3" y="12" textLength="9.99" lengthAdjust="spacingAndGlyphs" style="font-weight:bold;fill:#131722">L:</text>
<text x="408.91" y="12" textLength="40.08" lengthAdjust="spacingAndGlyphs" style="fill:#30aa9f">1.2288</text>
<text x="451.48" y="12" textLength="12.06" lengthAdjust="spacingAndGlyphs" style="font-weight:bold;fill:#131722">C:</text>
<text x="463.94" y="12" textLength="39.01" lengthAdjust="spacingAndGlyphs" style="fill:#30aa9f">1.2379</text>
<g>
<g fill="#2196f3"><circle cx="8.4" cy="711.3" r="4.6"/><circle cx="15" cy="706.3" r="5.7"/><circle cx="24.7" cy="710.6" r="5.4"/><rect x="8.4" y="709" width="16.3" height="6.9"/></g>
<path fill="none" stroke="#fff" stroke-width="1.05" d="M4.6 713.6L13.8 706.6L20 712.2L26.2 705.7"/>
<circle cx="13.8" cy="706.6" r="1.7" fill="#fff"/><circle cx="20" cy="712.2" r="1.9" fill="#fff"/>
<text x="31.9" y="713" textLength="71.07" lengthAdjust="spacingAndGlyphs" style="fill:#131722">TradingView</text>
</g>
</svg></body></html>
